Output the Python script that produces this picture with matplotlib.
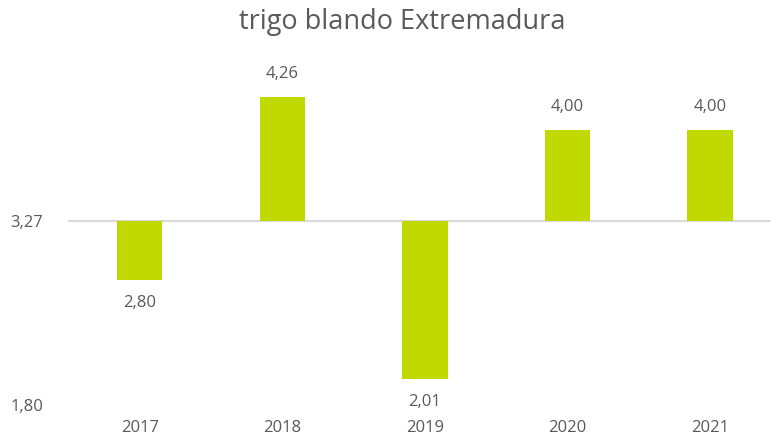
import matplotlib
matplotlib.use("Agg")
import matplotlib.pyplot as plt

years = ["2017", "2018", "2019", "2020", "2021"]
values = [2.80, 4.26, 2.01, 4.00, 4.00]
baseline = 3.27
ytick_vals = [1.80, 3.27]
title = "trigo blando Extremadura"

def fmt(v):
    return f"{v:.2f}".replace(".", ",")

plt.rcParams['font.family'] = ['Open Sans', 'DejaVu Sans']
txt = '#595959'

fig = plt.figure(figsize=(7.71, 4.45), dpi=100)
ax = fig.add_axes([68/771, (445-405)/445, 1 - 68/771, (405-37)/445])

x = list(range(len(years)))
heights = [v - baseline for v in values]
ax.bar(x, heights, bottom=baseline, width=0.316, color='#c0d900', zorder=3)
ax.axhline(baseline, color='#d9d9d9', lw=1.5, zorder=2)

for xi, v in zip(x, values):
    off = 16.5 if v >= baseline else -16.5
    ax.annotate(fmt(v), (xi, v), xytext=(0, off), textcoords='offset points',
                ha='center', va='center', fontsize=12, color=txt)

ax.set_xlim(-0.505, 4.428)
ax.set_ylim(1.80, 4.74)
ax.set_xticks(x)
ax.set_xticklabels(years, fontsize=12, color=txt)
ax.set_yticks(ytick_vals)
ax.set_yticklabels([fmt(v) for v in ytick_vals], fontsize=12, color=txt)
ax.tick_params(axis='both', length=0)
ax.tick_params(axis='x', pad=11)
ax.tick_params(axis='y', pad=18)
for s in ax.spines.values():
    s.set_visible(False)

fig.text(402/771, 1 - 22/445, title, ha='center', va='center', fontsize=19.5, color=txt)

fig.savefig("out.png", dpi=100)
